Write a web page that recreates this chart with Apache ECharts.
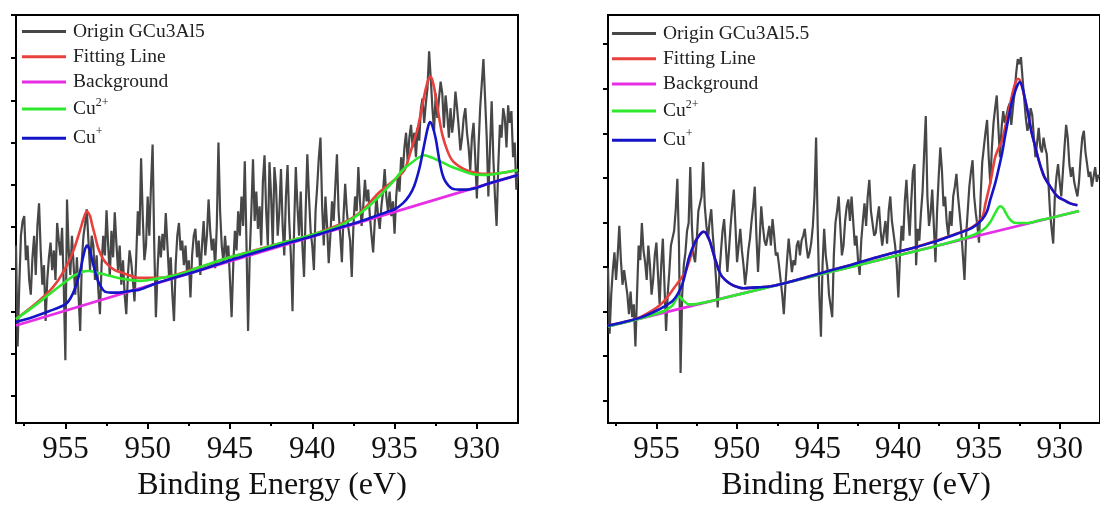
<!DOCTYPE html>
<html><head><meta charset="utf-8">
<script src="https://cdn.jsdelivr.net/npm/echarts@6/dist/echarts.min.js"></script>
<style>html,body{margin:0;padding:0;background:#fff}#c{width:1100px;height:507px}</style>
</head><body><div id="c"></div>
<script>
// Binding energy sampling grid (eV)
const E_START = 958.0, E_STEP = 0.1;
const xTicks = [930, 935, 940, 945, 950, 955];
const xMinorTicks = [932.5, 937.5, 942.5, 947.5, 952.5, 957.5];
const leftYTicks = [28, 71, 113.5, 157, 200, 243, 286, 329, 372, 416];
const rightYTicks = [23, 68.4, 113.8, 159.2, 204.6, 250, 295.4, 340.8, 386.2];

// Left panel: GCu3Al5 raw spectrum (a.u.)
const leftRaw = [
181,78,141,191,206,211,166,181,146,131,
169,191,151,201,224,176,141,161,104,146,
169,184,156,176,146,204,186,171,199,141,
64,228,176,151,191,161,131,169,131,94,
166,191,203,218,186,156,191,181,146,171,
136,111,161,191,171,217,181,149,196,169,
215,183,156,181,141,166,131,111,151,176,
164,146,124,166,216,191,270,211,166,181,
231,191,241,284,181,108,156,191,169,193,
176,214,181,149,169,131,104,161,191,204,
176,186,161,181,151,166,128,171,191,198,
169,186,151,181,206,171,191,228,196,176,
188,158,201,286,216,181,164,191,169,181,
146,108,161,196,176,216,191,231,201,267,
186,94,171,216,269,206,236,198,221,181,
246,273,216,181,266,231,181,261,241,191,
216,259,201,171,231,263,206,171,114,201,
261,221,191,236,181,149,216,274,231,196,
181,156,216,241,271,291,221,181,231,201,
163,191,226,206,241,274,216,191,164,211,
244,216,198,186,149,201,231,216,261,226,
201,221,248,226,238,211,191,174,206,231,
211,198,221,236,259,231,216,236,211,226,
193,231,251,236,271,256,281,296,266,291,
304,281,296,271,301,288,321,331,306,326,
341,379,351,321,298,336,311,331,348,336,
301,334,316,291,321,296,311,338,321,301,
278,291,311,321,296,281,258,291,306,271,
229,281,321,346,371,331,291,231,281,328,
271,231,201,261,304,291,321,311,281,324,
306,318,271,286,238,256
];
const leftFit = [[958,106],[957,119],[956,134],[955.5,144],[955,158],[954.7,168],[954.4,181],[954.1,197],[953.9,208],[953.7,216],[953.5,211],[953.4,204],[953.2,191],[953,178],[952.7,167],[952.4,161],[952,156],[951.5,153],[950.5,148],[949.3,148],[947,158],[945,169],[942,183],[940,192],[938,205],[937,216],[936,234],[935,248],[934.4,258],[934,278],[933.6,300],[933.3,325],[933.1,341],[932.95,350],[932.8,353],[932.65,346],[932.5,333],[932.3,312],[932.1,294],[931.8,278],[931.5,268],[931,261],[930.5,257],[929.5,254],[928.5,255],[927.5,258]];
const leftBg = [[958,99.5],[927.5,253]];
const leftCu2 = [[958,106],[957,118],[956,131],[955,144],[954.5,150],[954,154],[953.6,155],[953,153],[952.5,151],[951.5,147],[950.5,145],[949.5,147],[948,152],[947,158],[945,169],[943,178],[942,183],[940,192],[939,197],[938,204],[937,215],[936,230],[935,248],[934.5,258],[934,265],[933.5,271],[933.2,273],[932.8,271],[932.5,269],[932,265],[931.5,261],[931,258],[930.3,254],[929.5,253],[928.9,254],[927.5,258]];
const leftCu1 = [[958,103],[957,108],[956,114],[955,121],[954.7,127],[954.4,138],[954.1,155],[953.9,171],[953.7,181],[953.5,176],[953.4,168],[953.2,155],[953,144],[952.8,138],[952.6,134],[952.2,133],[951.8,133],[951,135],[950.5,136],[949.3,143.5],[947,155],[945,166],[942,181],[940,190.5],[938,201],[937,206],[936,212],[935.5,215],[935,218],[934.5,224],[934.1,232],[933.8,242],[933.5,259],[933.3,275],[933.1,292],[932.95,303],[932.85,307],[932.7,303],[932.5,290],[932.3,270],[932.1,254],[931.9,246],[931.5,239],[931,238],[930.7,238],[930,240],[929.5,243],[928.5,248],[927.5,253]];

// Right panel: GCu3Al5.5 raw spectrum (a.u.)
const rightRaw = [
158,91,131,156,174,146,171,201,166,141,
156,154,131,111,134,108,121,78,131,181,
166,204,176,164,146,181,161,131,146,171,
184,151,121,161,188,141,94,131,154,181,
181,196,218,249,181,51,131,161,174,196,
204,261,201,171,164,186,216,214,231,266,
221,201,188,206,218,191,171,146,118,151,
174,196,208,181,154,176,201,221,238,201,
164,181,198,176,161,141,156,176,188,206,
221,241,191,154,186,221,201,186,181,191,
201,181,208,191,171,174,161,146,131,111,
141,166,188,171,154,166,161,181,186,171,
186,191,198,181,168,174,184,201,231,291,
201,131,88,161,198,171,158,131,131,108,
171,204,216,231,201,171,181,206,221,228,
206,231,206,181,191,166,151,186,206,224,
201,231,248,216,214,191,194,209,221,196,
181,194,206,183,216,231,206,204,181,161,
128,171,201,186,226,248,216,191,226,256,
264,161,198,186,214,236,276,313,231,201,
214,238,201,164,216,251,281,258,221,231,
204,191,216,201,231,241,254,231,214,196,
171,146,191,216,241,256,268,231,214,201,
184,231,266,281,296,309,271,244,281,306,
321,334,301,271,301,318,306,304,321,326,
304,321,336,356,371,366,373,351,331,311,
298,306,321,314,291,271,286,301,281,276,
291,281,274,246,216,198,183,231,251,264,
246,231,256,281,304,291,264,251,261,246,
238,231,246,271,291,298,276,264,251,256,
241,251,261,246,253,251
];
const rightFit = [[958,99.5],[957,103],[956,108],[955,117.5],[954.6,123],[954.2,131],[953.9,138],[953.6,144.5],[953.2,154.5],[953,163],[952.8,174],[952.6,185],[952.4,190.5],[952.2,194],[952.05,195],[951.9,193],[951.7,186],[951.5,175],[951.3,164],[951,151],[950.6,144],[950.2,140],[949.6,137.5],[948.6,138.5],[947.7,140],[945,152],[943,161],[941,170.5],[939,179],[938.2,183],[937.3,188],[936.4,193],[935.4,200],[934.8,210],[934.6,224],[934.3,245],[934,271],[933.8,280],[933.58,287.5],[933.4,300],[933.17,317.5],[932.9,338],[932.7,349],[932.57,351],[932.45,349],[932.3,341],[932.16,331],[931.95,315],[931.76,298],[931.55,284],[931.35,271],[931.15,260],[930.95,251],[930.5,239],[930.13,231],[929.7,227],[929.32,224],[928.9,222]];
const rightBg = [[958,98.6],[928.8,216.2]];
const rightCu2 = [[958,98.6],[956,106.7],[955,111.5],[954.5,114.5],[954.2,117.5],[954,120],[953.8,125.5],[953.65,129],[953.5,128],[953.3,124.5],[953,121],[952.5,121.5],[951,126.8],[948,138.8],[945,150.9],[942,163],[940,171],[938,179],[936.5,185.5],[935.5,190.8],[935,194.5],[934.6,199],[934.3,205],[934.1,211],[933.9,217],[933.7,221],[933.5,219],[933.3,213],[933.1,208],[932.8,204.3],[932.4,204],[932,204],[931.3,206.5],[930.5,209.3],[928.8,216.2]];
const rightCu1 = [[958,99.3],[957,103],[956,107.5],[955,114.5],[954.5,119],[954,124.5],[953.7,131],[953.4,141],[953.2,153],[953,167.5],[952.8,177],[952.6,184.5],[952.4,190],[952.2,194],[952.05,195],[951.9,193],[951.7,186],[951.5,175],[951.3,164],[951,151],[950.6,144],[950.2,140],[949.6,137.5],[948.6,138.5],[947.7,140],[945,152],[943,161],[941,170.5],[939,179],[938.2,182.7],[937.3,187.5],[936.4,192.7],[935.4,199.3],[934.8,207.7],[934.5,216],[934.3,227.7],[934,244.3],[933.8,258],[933.58,274.3],[933.4,291],[933.17,311],[932.95,328],[932.77,337.7],[932.6,345],[932.46,347.7],[932.3,342],[932.16,331],[931.95,315],[931.76,297.7],[931.55,284],[931.35,271],[931.15,260],[930.95,251],[930.5,239],[930.13,231],[929.7,227],[929.32,223.7],[928.9,222]];

const NAMES_L = ['Origin GCu3Al5','Fitting Line','Background','Cu2+','Cu+'];
const NAMES_R = ['Origin GCu3Al5.5','Fitting Line','Background','Cu2+','Cu+'];
const COLORS = {raw:'#474747', fit:'#e8403c', bg:'#e62ee6', cu2:'#2ee82e', cu1:'#1414c8'};
const SERIF = 'Liberation Serif, Times New Roman, serif';

function rawPairs(arr){ return arr.map((v,i)=>[+(E_START - i*E_STEP).toFixed(1), v]); }

function panelAxes(gi, yTicks, namePad){
  const xMain = {
    type:'value', gridIndex:gi, min:927.5, max:958, inverse:true, position:'bottom',
    axisLine:{show:true, onZero:false, lineStyle:{color:'#000', width:2}},
    axisTick:{show:true, customValues:xTicks, length:6, inside:false, lineStyle:{color:'#000', width:2}},
    axisLabel:{show:true, customValues:xTicks, fontFamily:SERIF, fontSize:31, color:'#111', margin:11},
    splitLine:{show:false},
    name:'Binding Energy (eV)', nameLocation:'middle', nameGap:44,
    nameTextStyle:{fontFamily:SERIF, fontSize:32, color:'#111', padding:[0,0,0,namePad]}
  };
  const xMinor = {
    type:'value', gridIndex:gi, min:927.5, max:958, inverse:true, position:'bottom',
    axisLine:{show:false, onZero:false},
    axisTick:{show:true, customValues:xMinorTicks, length:3, inside:false, lineStyle:{color:'#000', width:2}},
    axisLabel:{show:false}, splitLine:{show:false}
  };
  const y = {
    type:'value', gridIndex:gi, min:0, max:416, position:'left',
    axisLine:{show:true, onZero:false, lineStyle:{color:'#000', width:2}},
    axisTick:{show:true, customValues:yTicks, length:5, inside:false, lineStyle:{color:'#000', width:2}},
    axisLabel:{show:false}, splitLine:{show:false}
  };
  return {x:[xMain, xMinor], y:[y]};
}

const A0 = panelAxes(0, leftYTicks, 10), A1 = panelAxes(1, rightYTicks, 4);

function lineSeries(name, data, color, width, xi, yi, smooth, z){
  return {type:'line', name, data, xAxisIndex:xi, yAxisIndex:yi, symbol:'none', showSymbol:false,
    smooth: smooth ? 0.3 : false, lineStyle:{color, width}, itemStyle:{color}, z, silent:true, animation:false, clip:true};
}

const legendText = {
  fontFamily:SERIF, fontSize:19.5, color:'#222', lineHeight:20, padding:[0,0,0,2],
  rich:{
    b:{fontFamily:SERIF, fontSize:19.5, color:'#222', lineHeight:24},
    s:{fontFamily:SERIF, fontSize:12, color:'#222', lineHeight:13, verticalAlign:'top'}
  }
};
function legendFmt(name){
  if(name==='Cu2+') return '{b|Cu}{s|2+}';
  if(name==='Cu+') return '{b|Cu}{s|+}';
  return name;
}
const LEGEND_ICON = 'path://M0,0L44,0L44,3L0,3Z';

const option = {
  backgroundColor:'#fff',
  animation:false,
  grid:[
    {left:16, top:15, width:502, height:416, show:true, borderColor:'#000', borderWidth:2, backgroundColor:'transparent'},
    {left:608, top:15, width:502, height:416, show:true, borderColor:'#000', borderWidth:2, backgroundColor:'transparent'}
  ],
  xAxis:[...A0.x, ...A1.x],
  yAxis:[...A0.y, ...A1.y],
  legend:[
    {orient:'vertical', left:22, top:21.5, padding:0, icon:LEGEND_ICON, itemWidth:44, itemHeight:3, itemGap:5.2, selectedMode:false,
     data:NAMES_L, textStyle:legendText, formatter:legendFmt},
    {orient:'vertical', left:612, top:23.5, padding:0, icon:LEGEND_ICON, itemWidth:44, itemHeight:3, itemGap:5.2, selectedMode:false,
     data:NAMES_R, textStyle:legendText, formatter:legendFmt}
  ],
  series:[
    lineSeries(NAMES_L[0], rawPairs(leftRaw), COLORS.raw, 2.2, 0, 0, false, 1),
    lineSeries('Fitting Line', leftFit, COLORS.fit, 2.6, 0, 0, true, 2),
    lineSeries('Background', leftBg, COLORS.bg, 2.8, 0, 0, false, 3),
    lineSeries('Cu2+', leftCu2, COLORS.cu2, 2.6, 0, 0, true, 4),
    lineSeries('Cu+', leftCu1, COLORS.cu1, 2.6, 0, 0, true, 5),
    lineSeries(NAMES_R[0], rawPairs(rightRaw), COLORS.raw, 2.2, 2, 1, false, 1),
    lineSeries('Fitting Line', rightFit, COLORS.fit, 2.6, 2, 1, true, 2),
    lineSeries('Background', rightBg, COLORS.bg, 2.8, 2, 1, false, 3),
    lineSeries('Cu2+', rightCu2, COLORS.cu2, 2.6, 2, 1, true, 4),
    lineSeries('Cu+', rightCu1, COLORS.cu1, 2.6, 2, 1, true, 5)
  ]
};
const chart = echarts.init(document.getElementById('c'), null, {renderer:'canvas'});
chart.setOption(option);
</script></body></html>
